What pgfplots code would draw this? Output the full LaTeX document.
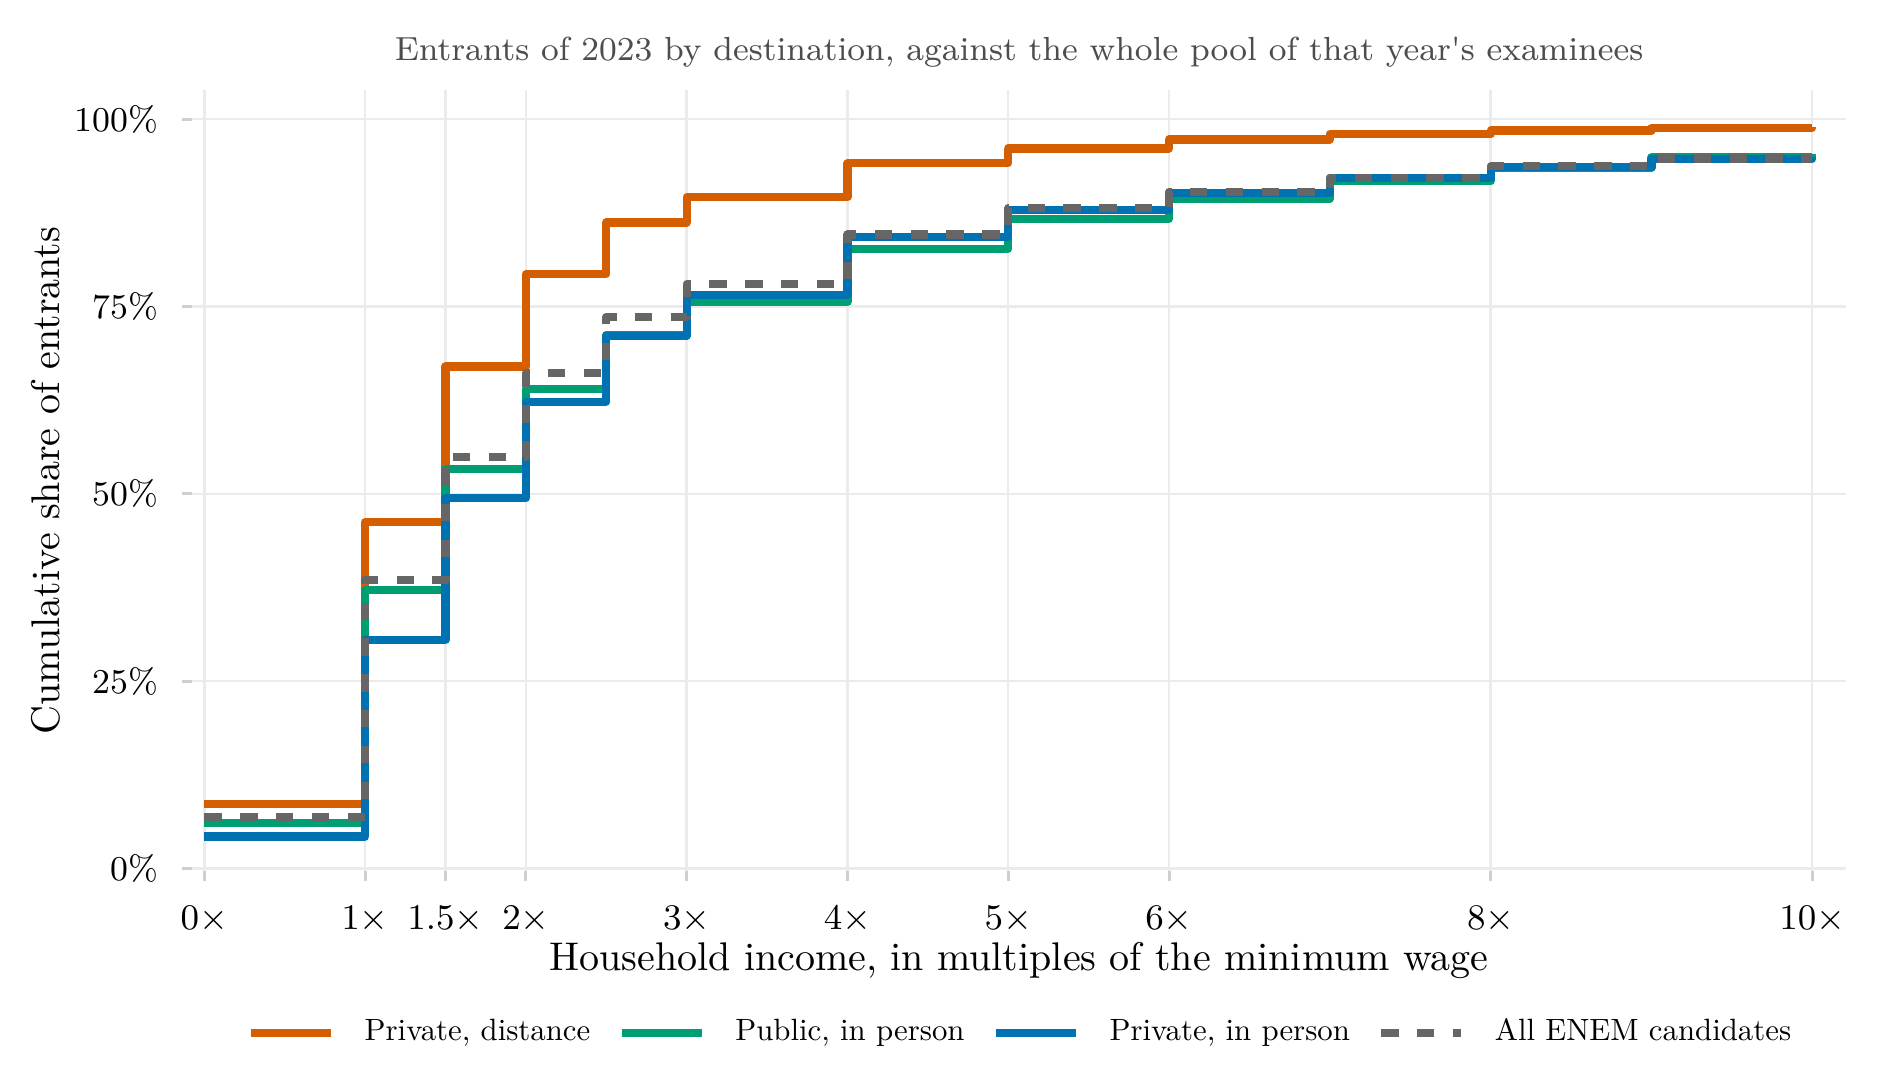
\documentclass[border=0pt]{standalone}
\usepackage{pgfplots}
\pgfplotsset{compat=1.18}
\definecolor{corange}{HTML}{D55E00}
\definecolor{cgreen}{HTML}{009E73}
\definecolor{cblue}{HTML}{0072B2}
\definecolor{cgray}{HTML}{666666}
\definecolor{gridc}{HTML}{EBEBEB}
\definecolor{tickc}{HTML}{CFCFCF}
\definecolor{titlec}{HTML}{4D4D4D}
\font\legfont="[lmroman10-regular]:+tlig;" at 7.7pt
\begin{document}
\begin{tikzpicture}
\useasboundingbox (0,0) rectangle (470pt,270pt);
\begin{axis}[
  at={(48pt,52.25pt)}, anchor=south west,
  scale only axis, width=413.5pt, height=195.25pt,
  xmin=-0.0765, xmax=10.21, ymin=-0.36, ymax=103.9,
  axis line style={draw=none},
  tick pos=left,
  tick align=outside, major tick length=2.5pt,
  tick style={draw=tickc, line width=0.75pt},
  grid=major, major grid style={draw=gridc, line width=0.6pt},
  xtick={0,1,1.5,2,3,4,5,6,8,10},
  xticklabels={$0\times$,$1\times$,$1.5\times$,$2\times$,$3\times$,$4\times$,$5\times$,$6\times$,$8\times$,$10\times$},
  ytick={0,25,50,75,100},
  yticklabels={0\%,25\%,50\%,75\%,100\%},
  xticklabel style={font=\fontsize{8.7}{10}\selectfont, inner sep=0pt, anchor=north, yshift=-6pt},
  yticklabel style={font=\fontsize{8.7}{10}\selectfont, inner sep=0pt, anchor=east, xshift=-5.75pt},
  every axis title shift=0pt,
  title={Entrants of 2023 by destination, against the whole pool of that year\textquotesingle s examinees},
  title style={font=\fontsize{8.34}{10}\selectfont, text=titlec, at={(axis description cs:0.5,1.048)}, anchor=center, inner sep=0pt},
  xlabel={Household income, in multiples of the minimum wage},
  xlabel style={font=\fontsize{10}{12}\selectfont, at={(axis description cs:0.5,-0.114)}, anchor=center, inner sep=0pt},
  ylabel={Cumulative share of entrants},
  ylabel style={font=\fontsize{10}{12}\selectfont, at={(axis description cs:-0.0885,0.5)}, anchor=center, inner sep=0pt},
  legend columns=4,
  legend style={at={(axis description cs:0.5,-0.207)}, anchor=center, draw=none, fill=none,
    font=\legfont, inner sep=0pt, nodes={inner sep=0pt},
    /tikz/every odd column/.append style={column sep=7.4pt},
    /tikz/every even column/.append style={column sep=6.8pt}},
  legend cell align=left,
  legend image code/.code={\draw[#1] (0pt,0pt) -- (20pt,0pt);},
  every axis plot/.append style={const plot mark left, no marks, line width=2.05pt, line join=round, line cap=butt},
]
\addplot[corange] coordinates {(0,8.62) (1,46.2) (1.5,67.0) (2,79.3) (2.5,86.2) (3,89.6) (4,94.1) (5,96.1) (6,97.3) (7,98.0) (8,98.5) (9,98.8) (10,98.9)};
\addlegendentry{Private, distance}
\addplot[cgreen] coordinates {(0,6.06) (1,37.1) (1.5,53.3) (2,64.0) (2.5,71.2) (3,75.6) (4,82.7) (5,86.7) (6,89.4) (7,91.7) (8,93.5) (9,94.9) (10,95.3)};
\addlegendentry{Public, in person}
\addplot[cblue] coordinates {(0,4.25) (1,30.5) (1.5,49.4) (2,62.3) (2.5,71.1) (3,76.5) (4,84.25) (5,87.9) (6,90.1) (7,92.2) (8,93.65) (9,94.7) (10,95.0)};
\addlegendentry{Private, in person}
\addplot[cgray, dash pattern=on 4.35pt off 4.6pt] coordinates {(0,6.83) (1,38.5) (1.5,54.9) (2,66.1) (2.5,73.6) (3,78.0) (4,84.6) (5,88.1) (6,90.3) (7,92.2) (8,93.7) (9,94.75) (10,94.75)};
\addlegendentry{All ENEM candidates}
\end{axis}
\end{tikzpicture}
\end{document}
